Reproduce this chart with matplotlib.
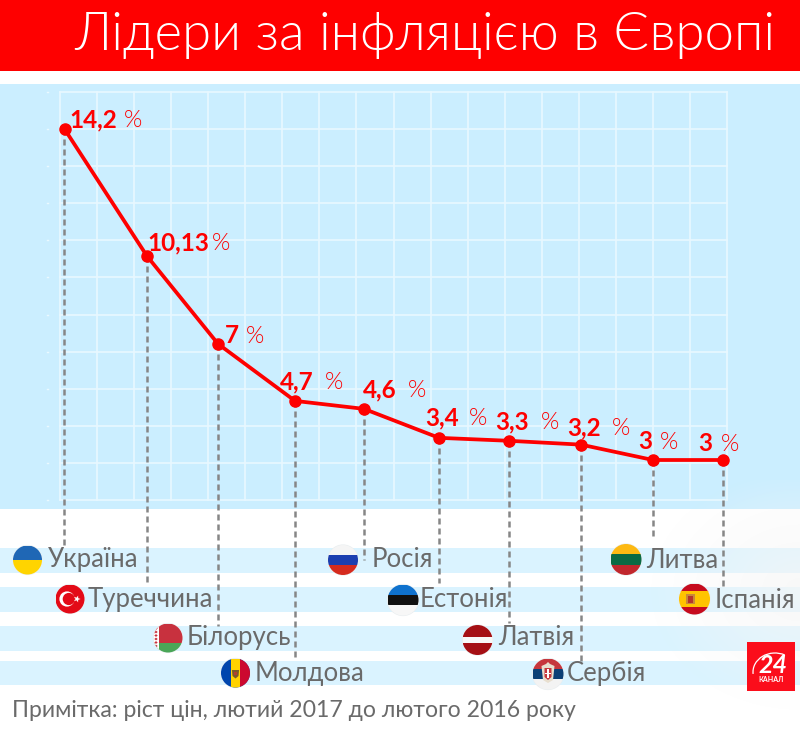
import numpy as np
import matplotlib
matplotlib.use('Agg')
import matplotlib.pyplot as plt
from matplotlib.patches import Rectangle, Circle, Polygon, Arc

plt.rcParams['font.family'] = ['Lato', 'Roboto', 'DejaVu Sans']

# ---- data ----
countries = ['Україна', 'Туреччина', 'Білорусь', 'Молдова', 'Росія',
             'Естонія', 'Латвія', 'Сербія', 'Литва', 'Іспанія']
value_labels = ['14,2', '10,13', '7', '4,7', '4,6', '3,4', '3,3', '3,2', '3', '3']
# heights of the line as drawn in the picture (the drawing is not strictly to scale)
drawn_values = [14.2, 9.9, 6.93, 5.0, 4.73, 3.75, 3.65, 3.52, 3.0, 3.0]
title = 'Лідери за інфляцією в Європі'
note = 'Примітка: ріст цін, лютий 2017 до лютого 2016 року'

# ---- layout (pixels) ----
W, H = 800, 733
x_px = [64.5, 147, 218, 295, 364, 439, 509, 581, 653, 723]
drop_end = [545, 586, 626, 658, 560, 583, 623, 663, 540, 590]
label_x = [69, 147, 225, 280, 363, 425, 495, 567, 638, 698]
label_y = [127, 250, 343, 389, 397, 425, 429, 435, 449, 451]
pct_x = [124, 212, 246, 325, 408, 469, 541, 612, 660, 721]
flag_c = [(27.5, 560), (70, 599), (168, 638), (235.5, 673), (343, 560),
          (403, 600), (477.5, 640), (548, 674), (626, 559.5), (694.5, 599)]
flag_r = [14.5, 14.5, 14.5, 14.5, 15, 15.5, 15, 15.5, 15.5, 15.5]
name_x = [48, 88, 187, 255, 372, 420, 498, 567, 646, 715]
name_y = [567, 607, 645, 681, 567, 607, 645, 681, 568, 608]
bands = [(548, 573), (587, 612), (626, 651), (661, 685)]

RED = '#fe0000'
GREY = '#6a6a6a'

fig = plt.figure(figsize=(W / 100, H / 100), dpi=100, facecolor='white')
bg = fig.add_axes([0, 0, 1, 1])
bg.set_xlim(0, W); bg.set_ylim(H, 0); bg.axis('off')

# header + panel
bg.add_patch(Rectangle((0, 0), W, 70.5, fc=RED, ec='none'))
bg.add_patch(Rectangle((0, 84), W, 425, fc='#cbeeff', ec='none', zorder=1))
tt = bg.text(775, 50, title, color='white', fontsize=38, family='Lato', fontweight=300,
             ha='right', va='baseline', zorder=5)
fig.canvas.draw()
tt.set_fontsize(38 * 700 / tt.get_window_extent().width)

# grid
for gx in np.linspace(60, 727, 19):
    bg.plot([gx, gx], [92, 500], color='#e8f8ff', lw=1.2, zorder=2)
for gy in np.linspace(92, 500, 12):
    bg.plot([60, 727], [gy, gy], color='#e8f8ff', lw=1.2, zorder=2)
    bg.plot([46.5, 48], [gy, gy], color='#eaf9ff', lw=1, zorder=2)

# name bands
for y0, y1 in bands:
    bg.add_patch(Rectangle((0, y0), W, y1 - y0, fc='#daf3ff', ec='none', zorder=1))

# soft corner shade at lower right
yy, xx = np.mgrid[480:733, 640:800]
shade = np.clip(1 - np.hypot((xx - 800) / 150, (yy - 590) / 120), 0, 1) * 0.75
rgba = np.zeros(shade.shape + (4,))
rgba[..., :3] = 0.965
rgba[..., 3] = shade
bg.imshow(rgba, extent=(640, 800, 733, 480), aspect='auto', zorder=1.5)
bg.set_xlim(0, W); bg.set_ylim(H, 0)

# data axes: same rectangle, value scale on y
ax = fig.add_axes([0, 0, 1, 1], facecolor='none')
px_per_unit = (460 - 129) / (14.2 - 3.0)
ax.set_xlim(0, W)
ax.set_ylim(14.2 - (H - 129) / px_per_unit, 14.2 + 129 / px_per_unit)
ax.axis('off')

def y_to_val(yp):
    return 14.2 - (yp - 129) / px_per_unit

for xp, v, e in zip(x_px, drawn_values, drop_end):
    ax.plot([xp - 0.5, xp - 0.5], [v, y_to_val(e)], color='#868686', lw=1.8,
            dashes=(2.4, 1.6), zorder=2)
ax.plot(x_px, drawn_values, color=RED, lw=2.7, marker='o', ms=8,
        mfc=RED, mec=RED, zorder=3, solid_joinstyle='round')

for lab, lx, ly, px in zip(value_labels, label_x, label_y, pct_x):
    bg.text(lx, ly, lab, color=RED, fontsize=17.5, fontweight='bold',
            ha='left', va='baseline', zorder=6)
    bg.text(px, ly, '%', color=RED, fontsize=17, fontweight=300,
            ha='left', va='baseline', zorder=6)

# flags
fl = fig.add_axes([0, 0, 1, 1], facecolor='none')
fl.set_xlim(0, W); fl.set_ylim(H, 0); fl.axis('off')

def stripes(c, r, cols, fracs=None):
    cx, cy = c
    clip = Circle(c, r, transform=fl.transData)
    fracs = fracs or [1 / len(cols)] * len(cols)
    y = cy - r
    for col, f in zip(cols, fracs):
        p = Rectangle((cx - r, y), 2 * r, 2 * r * f + 0.3, fc=col, ec='none', zorder=3)
        fl.add_patch(p); p.set_clip_path(clip)
        y += 2 * r * f
    return clip

def rect(clip, x, y, w, h, col, z=4):
    p = Rectangle((x, y), w, h, fc=col, ec='none', zorder=z)
    fl.add_patch(p); p.set_clip_path(clip)

def star(cx, cy, r, rot=0):
    a = np.deg2rad(np.arange(10) * 36 - 90 + rot)
    rr = np.where(np.arange(10) % 2 == 0, r, r * 0.4)
    return np.c_[cx + rr * np.cos(a), cy + rr * np.sin(a)]

for c, r, name in zip(flag_c, flag_r, countries):
    cx, cy = c
    fl.add_patch(Circle(c, r + 0.6, fc='#e9eef0', ec='none', zorder=2.5))
    if name == 'Україна':
        stripes(c, r, ['#1f67b5', '#ffd400'])
    elif name == 'Туреччина':
        stripes(c, r, ['#e30a17'])
        fl.add_patch(Circle((cx - 3, cy), 7.6, fc='white', ec='none', zorder=4))
        fl.add_patch(Circle((cx - 1.2, cy), 6.1, fc='#e30a17', ec='none', zorder=5))
        fl.add_patch(Polygon(star(cx + 7, cy, 3.6, -90 + 36), fc='white', ec='none', zorder=6))
    elif name == 'Білорусь':
        clip = stripes(c, r, ['#c8313e', '#4aa657'], [2 / 3, 1 / 3])
        rect(clip, cx - r, cy - r, 5, 2 * r, 'white')
        for k in np.arange(-13, 14, 3.5):
            p = Polygon([(cx - r + 2.5, cy + k - 1.4), (cx - r + 4.2, cy + k),
                         (cx - r + 2.5, cy + k + 1.4), (cx - r + 0.8, cy + k)],
                        fc='#c8313e', ec='none', zorder=5)
            fl.add_patch(p); p.set_clip_path(clip)
    elif name == 'Молдова':
        clip = stripes(c, r, ['#0046ae'])
        rect(clip, cx - r / 3, cy - r, 2 * r / 3, 2 * r, '#ffd200')
        rect(clip, cx + r / 3, cy - r, r, 2 * r, '#cc092f')
        fl.add_patch(Polygon([(cx - 3.6, cy - 3), (cx + 3.6, cy - 3), (cx + 3, cy + 3),
                              (cx, cy + 5.5), (cx - 3, cy + 3)], fc='#7a5a2a', ec='none', zorder=5))
        fl.add_patch(Rectangle((cx - 1.5, cy - 1.5), 3, 3.5, fc='#b2402f', ec='none', zorder=6))
    elif name == 'Росія':
        stripes(c, r, ['#f5f5f5', '#1c3fb0', '#d52b1e'])
    elif name == 'Естонія':
        stripes(c, r, ['#0f72ce', '#111111', '#f7f7f7'])
    elif name == 'Латвія':
        stripes(c, r, ['#a50f14', '#f7f7f7', '#a50f14'], [0.4, 0.2, 0.4])
    elif name == 'Сербія':
        stripes(c, r, ['#c6363c', '#0c4076', '#f3f3f3'])
        fl.add_patch(Polygon([(cx - 6.5, cy - 8), (cx - 2, cy - 10), (cx, cy - 12), (cx + 2, cy - 10),
                              (cx + 6.5, cy - 8), (cx + 5, cy + 6), (cx, cy + 9), (cx - 5, cy + 6)],
                             fc='#e8dfcf', ec='none', zorder=5))
        fl.add_patch(Polygon([(cx - 3.5, cy - 6), (cx + 3.5, cy - 6), (cx + 3.5, cy + 3),
                              (cx, cy + 6), (cx - 3.5, cy + 3)], fc='#c6363c', ec='none', zorder=6))
        fl.add_patch(Rectangle((cx - 0.6, cy - 5), 1.2, 9, fc='white', ec='none', zorder=7))
        fl.add_patch(Rectangle((cx - 3, cy - 1.5), 6, 1.2, fc='white', ec='none', zorder=7))
    elif name == 'Литва':
        stripes(c, r, ['#fdb913', '#0a6a44', '#c1272d'])
    elif name == 'Іспанія':
        stripes(c, r, ['#c60b1e', '#ffc400', '#c60b1e'], [0.25, 0.5, 0.25])
        fl.add_patch(Rectangle((cx - 9, cy - 5), 9, 10, fc='#c9883a', ec='none', zorder=5))
        fl.add_patch(Rectangle((cx - 7, cy - 3), 5, 7, fc='#b5342c', ec='none', zorder=6))

for nm, nx, ny in zip(countries, name_x, name_y):
    fl.text(nx, ny, nm, color=GREY, fontsize=18.5, fontweight='normal',
            ha='left', va='baseline', zorder=8)

fl.text(12, 717, note, color=GREY, fontsize=16.6, ha='left', va='baseline', zorder=8)

# logo
fl.add_patch(Rectangle((747, 642), 48, 49, fc='#fb0d1b', ec='none', zorder=8))
fl.text(773, 673, '24', color='white', fontsize=18, fontweight='bold', style='italic',
        ha='center', va='baseline', zorder=9)
fl.text(771.5, 682.5, 'КАНАЛ', color='white', fontsize=5, fontweight='bold',
        ha='center', va='baseline', zorder=9)
fl.add_patch(Arc((775, 672), 44, 38, theta1=175, theta2=300, color='white', lw=0.9, zorder=9))

fig.savefig('out.png', dpi=100)
